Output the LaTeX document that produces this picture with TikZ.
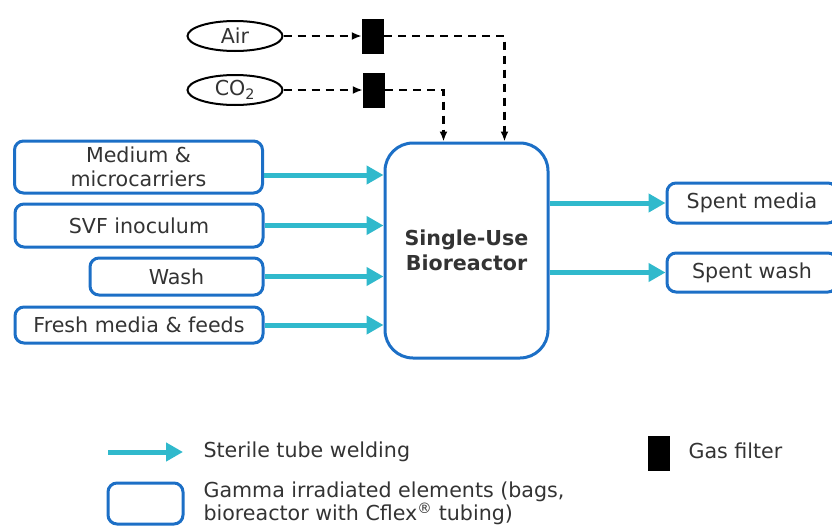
\documentclass[tikz,border=0pt]{standalone}
\usepackage{fontspec}
\setmainfont{DejaVu Sans}
\usetikzlibrary{arrows.meta,shapes.geometric}
\definecolor{bagblue}{HTML}{1C6FC6}
\definecolor{weldcyan}{HTML}{30B9CC}
\definecolor{txtgray}{HTML}{333333}

\begin{document}
\begin{tikzpicture}[x=1pt,y=-1pt,
  every node/.style={font=\fontsize{20.6}{23.5}\selectfont,text=txtgray},
  bag/.style={draw=bagblue,line width=3pt,rounded corners=9pt,inner sep=0pt,align=center},
  gas/.style={ellipse,draw=black,line width=2pt,minimum width=95pt,minimum height=30pt,inner sep=0pt},
  filter/.style={fill=black,minimum width=22pt,minimum height=35pt,inner sep=0pt},
  weld/.style={draw=weldcyan,line width=5pt,-{Triangle[length=17pt,width=18pt]}},
  pipe/.style={draw=black,line width=2.2pt,dash pattern=on 8pt off 6pt,-{Latex[length=10pt,width=8pt]}}]
  \useasboundingbox (0,0) rectangle (832,525);

  \node[gas] (air) at (235,36) {Air};
  \node[gas] (co2) at (235,90) {CO\textsubscript{2}};
  \node[filter] (f1) at (373,36) {};
  \node[filter] (f2) at (374,90) {};

  \node[bag,minimum width=163pt,minimum height=215pt,rounded corners=28pt,
        font=\fontsize{20.6}{24.5}\selectfont\bfseries] (bio) at (466.5,250.5) {Single-Use\\Bioreactor};

  \node[bag,minimum width=248pt,minimum height=52pt] (med) at (138.5,167) {Medium \&\\microcarriers};
  \node[bag,minimum width=248pt,minimum height=43pt] (svf) at (139,225.5) {SVF inoculum};
  \node[bag,minimum width=173pt,minimum height=37pt] (wash) at (176.5,276.5) {Wash};
  \node[bag,minimum width=248pt,minimum height=36pt] (fresh) at (139,325) {Fresh media \& feeds};

  \node[bag,minimum width=170pt,minimum height=40pt] (smedia) at (752,203) {Spent media};
  \node[bag,minimum width=170pt,minimum height=39pt] (swash) at (752,272.5) {Spent wash};

  % inlets and outlets
  \coordinate (medout) at ([yshift=-8pt]med.east);
  \draw[weld] (medout) -- (medout -| bio.west);
  \foreach \src in {svf,wash,fresh}
    \draw[weld] (\src.east) -- (\src.east -| bio.west);
  \draw[weld] (bio.east |- smedia.west) -- (smedia.west);
  \draw[weld] (bio.east |- swash.west) -- (swash.west);

  % gas lines
  \draw[pipe] (air) -- (f1);
  \draw[pipe] (co2) -- (f2);
  \draw[pipe] (f1.east) -| ([xshift=38pt]bio.north);
  \draw[pipe] (f2.east) -| ([xshift=-23pt]bio.north);

  % legend
  \coordinate (lgw0) at (108,452);
  \coordinate (lgw1) at (183,452);
  \draw[weld] (lgw0) -- (lgw1);
  \node[anchor=west] (lgweld) at (200,452) {Sterile tube welding};
  \node[bag,minimum width=75pt,minimum height=41pt] (lgbag) at (145.5,503.5) {};
  \node[anchor=west,align=left] (lgbagtxt) at (200,503.5) {Gamma irradiated elements (bags,\\bioreactor with Cflex\textsuperscript{®} tubing)};
  \node[filter] (lgfilter) at (659,453) {};
  \node[anchor=west] (lgfiltertxt) at (685,451) {Gas filter};

\end{tikzpicture}
\end{document}
